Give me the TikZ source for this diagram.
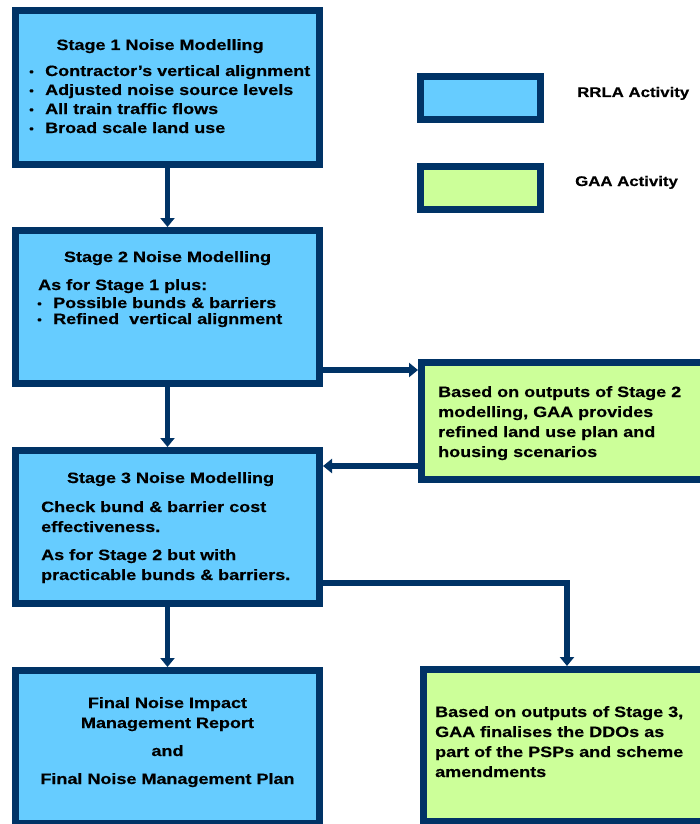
\documentclass[tikz,border=0pt]{standalone}
\usepackage{fontspec}
\setmainfont{Liberation Sans}[FakeStretch=1.2, BoldFeatures={FakeBold=0.4}]
\usetikzlibrary{arrows.meta}
\definecolor{navy}{HTML}{003366}
\definecolor{rrla}{HTML}{66CCFF}
\definecolor{gaa}{HTML}{CCFF99}
\newcommand{\bul}{\makebox[16pt][l]{\fontsize{11}{11}\selectfont\raisebox{0.5pt}{•}}}
\begin{document}
\begin{tikzpicture}[x=1pt,y=-1pt,
  box/.style={draw=navy, line width=7pt, inner sep=0pt, outer sep=3.5pt},
  bluebox/.style={box, fill=rrla},
  greenbox/.style={box, fill=gaa},
  txt/.style={font=\fontsize{15}{19}\selectfont\bfseries, inner sep=0pt, text=black},
  ltxt/.style={font=\fontsize{14}{18}\selectfont\bfseries, inner sep=0pt, text=black},
  ln/.style={txt, anchor=base west},
  tl/.style={txt, anchor=base},
  conn/.style={draw=navy, line width=5.5pt, -{Triangle[width=14pt,length=9pt]}}]
\useasboundingbox (0,0) rectangle (700,824);
\fill[white] (0,0) rectangle (700,824);

% boxes
\node[bluebox, minimum width=304pt, minimum height=154pt] (s1) at (167.5,87.5) {};
\node[bluebox, minimum width=304pt, minimum height=153pt] (s2) at (167.5,307) {};
\node[bluebox, minimum width=304pt, minimum height=153pt] (s3) at (167.5,527) {};
\node[bluebox, minimum width=304pt, minimum height=153pt] (s4) at (167.5,747) {};
\node[greenbox, minimum width=295pt, minimum height=117pt] (g1) at (569,421) {};
\node[greenbox, minimum width=293pt, minimum height=152pt] (g2) at (570,745.5) {};
\node[bluebox, minimum width=120pt, minimum height=43pt] (lr) at (480.5,98) {};
\node[greenbox, minimum width=120pt, minimum height=43pt] (lg) at (480.5,188) {};

% legend texts
\node[ltxt, anchor=base west] (lrt) at (577,97) {RRLA Activity};
\node[ltxt, anchor=base west] (lgt) at (575,186) {GAA Activity};

% stage 1 text
\node[tl] (s1t) at (160,50) {Stage 1 Noise Modelling};
\node[ln] (s1a) at (29,76) {\bul Contractor’s vertical alignment};
\node[ln] (s1b) at (29,95) {\bul Adjusted noise source levels};
\node[ln] (s1c) at (29,114) {\bul All train traffic flows};
\node[ln] (s1d) at (29,133) {\bul Broad scale land use};

% stage 2 text
\node[tl] (s2t) at (167.5,262) {Stage 2 Noise Modelling};
\node[ln] (s2a) at (38,290) {As for Stage 1 plus:};
\node[ln] (s2b) at (37,308) {\bul Possible bunds \& barriers};
\node[ln] (s2c) at (37,324) {\bul Refined\ \ vertical alignment};

% stage 3 text
\node[tl] (s3t) at (170.5,483) {Stage 3 Noise Modelling};
\node[ln] (s3a) at (41,512) {Check bund \& barrier cost};
\node[ln] (s3b) at (41,532) {effectiveness.};
\node[ln] (s3c) at (41,560) {As for Stage 2 but with};
\node[ln] (s3d) at (41,580) {practicable bunds \& barriers.};

% final text
\node[tl] (s4a) at (167.5,708) {Final Noise Impact};
\node[tl] (s4b) at (167.5,728) {Management Report};
\node[tl] (s4c) at (167.5,756) {and};
\node[tl] (s4d) at (167.5,784) {Final Noise Management Plan};

% GAA 1 text
\node[ln] (g1a) at (438,397) {Based on outputs of Stage 2};
\node[ln] (g1b) at (438,417) {modelling, GAA provides};
\node[ln] (g1c) at (438,437) {refined land use plan and};
\node[ln] (g1d) at (438,457) {housing scenarios};

% GAA 2 text
\node[ln] (g2a) at (435,717) {Based on outputs of Stage 3,};
\node[ln] (g2b) at (435,737) {GAA finalises the DDOs as};
\node[ln] (g2c) at (435,757) {part of the PSPs and scheme};
\node[ln] (g2d) at (435,777) {amendments};

% connectors
\coordinate (ya) at (0,370);
\coordinate (yb) at (0,466);
\coordinate (yc) at (567,583);
\draw[conn] (s1.south) -- (s2.north);
\draw[conn] (s2.south) -- (s3.north);
\draw[conn] (s3.south) -- (s4.north);
\draw[conn] (s2.east |- ya) -- (g1.west |- ya);
\draw[conn] (g1.west |- yb) -- (s3.east |- yb);
\draw[conn] (s3.east |- yc) -| (yc |- g2.north);
\end{tikzpicture}
\end{document}
